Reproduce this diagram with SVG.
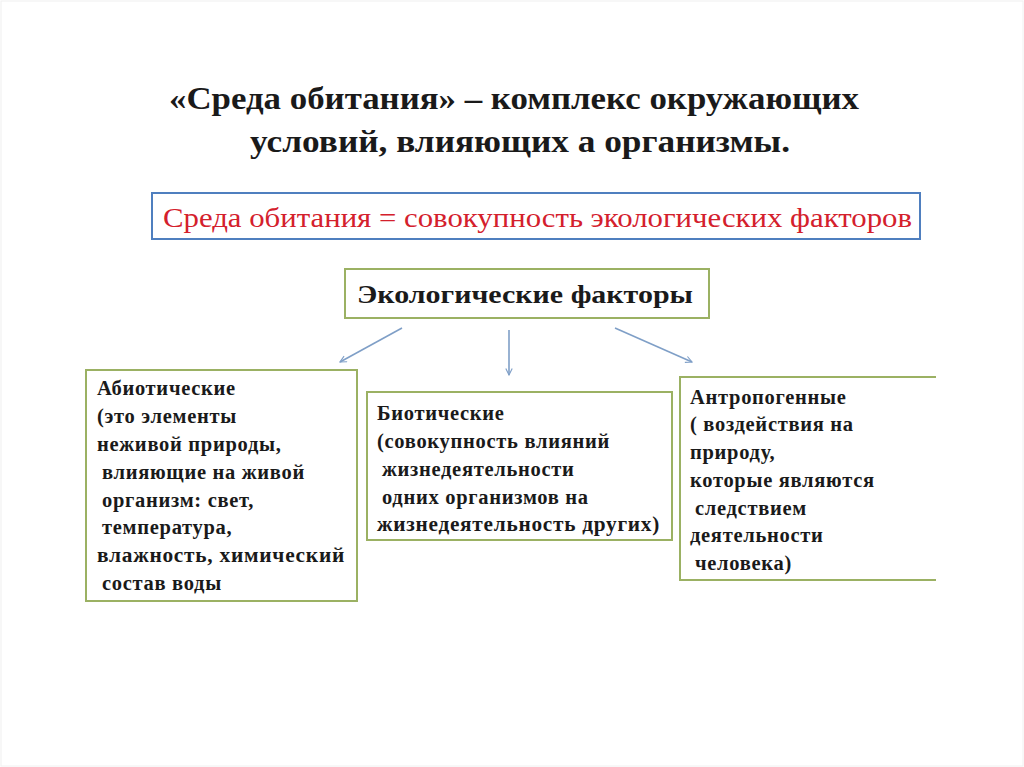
<svg xmlns="http://www.w3.org/2000/svg" width="1024" height="767" viewBox="0 0 1024 767">
<defs>
<style>
.t{font-family:"Liberation Serif","Times New Roman",serif;font-weight:bold;fill:#1a1a1a}
.title{font-size:31px;text-anchor:middle}
.box{fill:#ffffff;stroke:#9bb163;stroke-width:2}
.lbl{font-size:20.5px;letter-spacing:0.7px}
.conn{stroke:#7f9fc7;stroke-width:1.6;fill:none;marker-end:url(#ah)}
</style>
<marker id="ah" viewBox="0 0 10 10" refX="9" refY="5" markerWidth="8" markerHeight="8" orient="auto" markerUnits="userSpaceOnUse">
<path d="M1,1 L9,5 L1,9" fill="none" stroke="#7f9fc7" stroke-width="1.4"/>
</marker>
</defs>
<rect x="0" y="0" width="1024" height="767" fill="#ffffff"/>
<rect x="1" y="1" width="1022" height="765" fill="none" stroke="#f0f0f0" stroke-width="1"/>
<g id="title">
<text class="t title" x="514" y="109" textLength="690" lengthAdjust="spacingAndGlyphs">«Среда обитания» – комплекс окружающих</text>
<text class="t title" x="520" y="152" textLength="540" lengthAdjust="spacingAndGlyphs">условий, влияющих а организмы.</text>
</g>
<g id="definition">
<rect x="152" y="193" width="768" height="46" fill="#ffffff" stroke="#4f7fbf" stroke-width="2"/>
<text x="163" y="227" font-family="Liberation Serif, Times New Roman, serif" font-size="28" fill="#d4202c" textLength="749" lengthAdjust="spacingAndGlyphs">Среда обитания = совокупность экологических факторов</text>
</g>
<g id="factors">
<rect class="box" x="345" y="269" width="364" height="49"/>
<text class="t" x="357" y="303" font-size="26" textLength="336" lengthAdjust="spacingAndGlyphs">Экологические факторы</text>
</g>
<g id="connectors">
<line class="conn" x1="402" y1="328" x2="340" y2="362"/>
<line class="conn" x1="509" y1="330" x2="509" y2="375"/>
<line class="conn" x1="615" y1="328" x2="692" y2="362"/>
</g>
<g id="abiotic">
<rect class="box" x="86" y="370" width="271" height="231"/>
<text class="t lbl" x="97" y="395">Абиотические</text>
<text class="t lbl" x="97" y="423">(это элементы</text>
<text class="t lbl" x="97" y="451">неживой природы,</text>
<text class="t lbl" x="102" y="479">влияющие на живой</text>
<text class="t lbl" x="102" y="507">организм: свет,</text>
<text class="t lbl" x="102" y="534">температура,</text>
<text class="t lbl" x="97" y="562" textLength="248" lengthAdjust="spacingAndGlyphs">влажность, химический</text>
<text class="t lbl" x="102" y="590">состав воды</text>
</g>
<g id="biotic">
<rect class="box" x="367" y="392" width="305" height="148"/>
<text class="t lbl" x="377" y="420">Биотические</text>
<text class="t lbl" x="377" y="448">(совокупность влияний</text>
<text class="t lbl" x="382" y="476">жизнедеятельности</text>
<text class="t lbl" x="382" y="504">одних организмов на</text>
<text class="t lbl" x="377" y="531" textLength="283" lengthAdjust="spacingAndGlyphs">жизнедеятельность других)</text>
</g>
<g id="anthropogenic">
<path d="M936,377 L680,377 L680,580 L936,580" fill="#ffffff" stroke="#9bb163" stroke-width="2"/>
<text class="t lbl" x="690" y="404">Антропогенные</text>
<text class="t lbl" x="690" y="431">( воздействия на</text>
<text class="t lbl" x="690" y="459">природу,</text>
<text class="t lbl" x="690" y="487">которые являются</text>
<text class="t lbl" x="695" y="515">следствием</text>
<text class="t lbl" x="690" y="542">деятельности</text>
<text class="t lbl" x="695" y="570">человека)</text>
</g>
</svg>
